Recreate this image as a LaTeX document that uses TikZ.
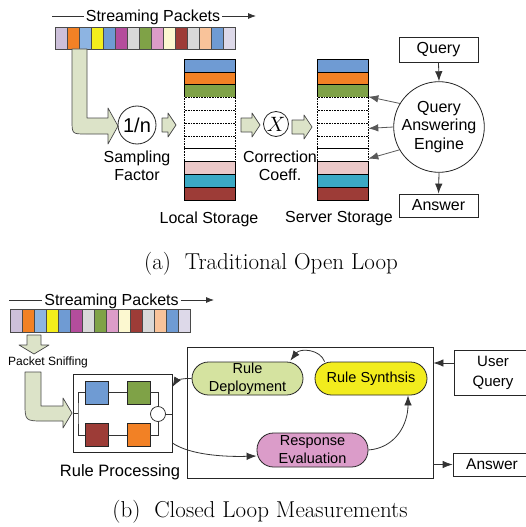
\documentclass[tikz,border=0pt]{standalone}
\usepackage{fontspec}
\setsansfont{Liberation Sans}
\usetikzlibrary{arrows.meta}

% packet colours
\definecolor{cLav}{HTML}{CDC0DA}
\definecolor{cOrange}{HTML}{F28125}
\definecolor{cLBlue}{HTML}{8DB4E2}
\definecolor{cYellow}{HTML}{F4EE1C}
\definecolor{cBlue}{HTML}{6F9BD3}
\definecolor{cMagenta}{HTML}{B44D9C}
\definecolor{cGray}{HTML}{D9D9D9}
\definecolor{cGreen}{HTML}{7FA247}
\definecolor{cPink}{HTML}{DC9CC8}
\definecolor{cCream}{HTML}{FCF8D0}
\definecolor{cRed}{HTML}{9D3C37}
\definecolor{cPeach}{HTML}{F9C39A}
\definecolor{cPale}{HTML}{DDD9E9}
% storage colours
\definecolor{cRose}{HTML}{EBC8C8}
\definecolor{cTeal}{HTML}{3BA9C4}
% stage colours
\definecolor{cDeploy}{HTML}{D5E3A0}
\definecolor{cSynth}{HTML}{F2EC1D}
\definecolor{cEval}{HTML}{DB9CC9}
\definecolor{cFat}{HTML}{DCE3C8}
\definecolor{cEdge}{HTML}{4A4A4A}

\tikzset{
  txt/.style={font=\sffamily\fontsize{16}{18.5}\selectfont, inner sep=0pt, align=center},
  smalltxt/.style={font=\sffamily\fontsize{12}{14}\selectfont, inner sep=0pt},
  pilltxt/.style={font=\sffamily\fontsize{14.5}{18}\selectfont, inner sep=0pt, align=center},
  captxt/.style={font=\fontsize{23}{26}\selectfont, inner sep=0pt},
  pkt/.style={draw=cEdge, line width=0.6pt, minimum width=12pt, minimum height=22pt, inner sep=0pt},
  sto/.style={draw=black, line width=0.6pt, minimum width=51pt, minimum height=12.8pt, inner sep=0pt},
  box/.style={draw=black!85, line width=0.8pt, inner sep=0pt, txt},
  pill/.style={draw=black!85, line width=0.8pt, rounded corners=16.5pt, inner sep=0pt, pilltxt},
  fat/.style={fill=cFat, draw=cEdge, line width=0.7pt, line join=round},
  arr/.style={draw=black!80, line width=0.8pt, -{Latex[length=10pt,width=7.5pt]}},
  thin/.style={draw=black!80, line width=0.7pt},
}

% a short fat block arrow: from x #1 to tip x #2 at height #3
\newcommand\blockarrow[3]{%
  \draw[fat] (#1,{#3-7}) -- ({#2-8},{#3-7}) -- ({#2-8},{#3-12}) -- (#2,#3)
    -- ({#2-8},{#3+12}) -- ({#2-8},{#3+7}) -- (#1,{#3+7}) -- cycle;}

\begin{document}
\begin{tikzpicture}[x=1pt,y=-1pt]
\useasboundingbox (0,0) rectangle (526,527);
\fill[white] (0,0) rectangle (526,527);

% ================= (a) open loop =================
% packet stream
\node[txt, text depth=0pt, inner xsep=2pt] (spA) at (153,16) {Streaming Packets};
\coordinate (spAl) at (52,16);
\coordinate (spAr) at (256,16);
\draw[thin] (spAl) -- (spA.west);
\draw[arr, -{Latex[length=8pt,width=6pt]}] (spA.east) -- (spAr);
\foreach \c [count=\i] in {cLav,cOrange,cLBlue,cYellow,cBlue,cMagenta,cGray,cGreen,cPink,cCream,cRed,cGray,cPeach,cBlue,cPale}
  \node[pkt, fill=\c] (pa\i) at ({49+12*\i},38) {};

% sampled branch
\draw[fat] (72,49) -- (87,49) -- (87,118) -- (108,118) -- (108,108) -- (118,126)
  -- (108,144) -- (108,134) -- (86,134) .. controls (72,134) .. (72,120) -- cycle;
\node[circle, draw=black!85, line width=0.8pt, minimum size=38pt, inner sep=0pt,
  font=\sffamily\fontsize{20}{20}\selectfont] (samp) at (137,125) {1/n};
\node[txt] (sampL) at (137,166) {Sampling\\Factor};
\blockarrow{162}{176}{125}

% local storage
\foreach \c/\s [count=\i] in {cBlue/solid,cOrange/solid,cGreen/solid,white/densely dotted,white/densely dotted,white/densely dotted,white/densely dotted,white/densely dotted,cRose/solid,cTeal/solid,cRed/solid}
  \node[sto, fill=\c, \s] (ls\i) at (209.5,{52.6+12.8*\i}) {};
\node[txt] (lsL) at (209,219) {Local Storage};

\blockarrow{241}{260}{125}
\node[circle, draw=black!85, line width=0.8pt, minimum size=25pt, inner sep=0pt,
  font=\fontsize{20}{20}\selectfont] (corr) at (276,124) {$X$};
\node[txt] (corrL) at (280,166) {Correction\\Coeff.};
\blockarrow{292}{312}{127}

% server storage
\foreach \c/\s [count=\i] in {cBlue/solid,cOrange/solid,cGreen/solid,white/densely dotted,white/densely dotted,white/densely dotted,white/densely dotted,white/densely dotted,cRose/solid,cTeal/solid,cRed/solid}
  \node[sto, fill=\c, \s] (ss\i) at (342.5,{52.6+12.8*\i}) {};
\node[txt] (ssL) at (339,219) {Server Storage};

% query answering
\node[box, minimum width=79pt, minimum height=25pt] (query) at (438.5,49.5) {Query};
\node[circle, draw=black!85, line width=0.8pt, minimum size=90pt, txt] (qae) at (439,127) {Query\\Answering\\Engine};
\node[box, minimum width=79pt, minimum height=23pt] (ansA) at (438.5,205.5) {Answer};
\draw[arr] (query.south) -- (qae.north);
\draw[arr] (qae.south) -- (ansA.north);
\draw[arr, draw=black!65] (qae.149) -- ([yshift=1pt]ss3.south east);
\draw[arr, draw=black!65] (qae.180) -- ([yshift=1pt]ss6.east);
\draw[arr, draw=black!65] (qae.210) -- ([yshift=3pt]ss8.south east);

\node[captxt] (capA) at (271,264) {(a)\ \ Traditional Open Loop};

% ================= (b) closed loop =================
\node[txt, text depth=0pt, inner xsep=2pt] (spB) at (111.5,300) {Streaming Packets};
\coordinate (spBl) at (9,300);
\coordinate (spBr) at (214,300);
\draw[thin] (spBl) -- (spB.west);
\draw[arr, -{Latex[length=8pt,width=6pt]}] (spB.east) -- (spBr);
\foreach \c [count=\i] in {cLav,cOrange,cLBlue,cYellow,cBlue,cMagenta,cGray,cGreen,cPink,cCream,cRed,cGray,cPeach,cBlue,cPale}
  \node[pkt, fill=\c, minimum height=23pt] (pb\i) at ({4+12*\i},320.5) {};

% sniffing
\draw[fat] (27,335) -- (41,335) -- (41,345) -- (49,345) -- (34,354) -- (19,345) -- (27,345) -- cycle;
\node[smalltxt] (sniff) at (48,362) {Packet Sniffing};
\draw[fat] (25,372) -- (41,372) -- (41,406) -- (63,406) -- (63,398) -- (72,413)
  -- (63,428) -- (63,421) -- (44,421) .. controls (25,421) .. (25,402) -- cycle;

% rule processing
\node[draw=black!85, line width=0.8pt, minimum width=99pt, minimum height=78pt, inner sep=0pt] (rp) at (122.5,413) {};
\node[draw=black!85, line width=0.7pt, fill=cBlue, minimum size=23pt, inner sep=0pt] (sqA) at (96.5,392.5) {};
\node[draw=black!85, line width=0.7pt, fill=cGreen, minimum size=23pt, inner sep=0pt] (sqB) at (138.5,392.5) {};
\node[draw=black!85, line width=0.7pt, fill=cRed, minimum size=23pt, inner sep=0pt] (sqC) at (96.5,435) {};
\node[draw=black!85, line width=0.7pt, fill=cOrange, minimum size=23pt, inner sep=0pt] (sqD) at (138.5,435) {};
\node[circle, draw=black!85, line width=0.7pt, fill=white, minimum size=15pt, inner sep=0pt] (jc) at (158,414) {};
\coordinate (busL) at (78,413);
\draw[thin] (rp.west) -- (busL);
\draw[thin] (sqA.west) -| (busL) |- (sqC.west);
\draw[thin] (sqA) -- (sqB);
\draw[thin] (sqC) -- (sqD);
\draw[thin] (sqB.east) -| (jc.north);
\draw[thin] (sqD.east) -| (jc.south);
\draw[thin] (jc.east) -- (jc.east -| rp.east);
\node[txt, font=\sffamily\fontsize{16.5}{18.5}\selectfont] (rpL) at (120,472) {Rule Processing};

% controller
\node[draw=black!85, line width=0.8pt, minimum width=246pt, minimum height=131pt, inner sep=0pt] (ctl) at (310,412.5) {};
\node[pill, fill=cDeploy, minimum width=111pt, minimum height=33pt] (dep) at (247.5,378.5) {Rule\\Deployment};
\node[pill, fill=cSynth, minimum width=112pt, minimum height=33pt] (syn) at (371,378.5) {Rule Synthsis};
\node[pill, fill=cEval, minimum width=111pt, minimum height=34pt] (eva) at (312.5,450) {Response\\Evaluation};

\draw[arr] ([xshift=10pt]syn.north west) .. controls (320,349) and (300,348) .. ([xshift=-13pt,yshift=1pt]dep.north east);
\draw[arr] (dep.west) .. controls (182,378) and (176,381) .. ([yshift=26pt]rp.east);
\draw[arr] ([yshift=-30pt]rp.east) .. controls (190,455) and (225,457) .. ([yshift=-6pt]eva.west);
\draw[arr] (eva.east) .. controls (395,448) and (408,425) .. ([xshift=37pt]syn.south);

% user side
\node[box, minimum width=78pt, minimum height=45pt, font=\sffamily\fontsize{15}{20}\selectfont] (uq) at (493,372.5) {User\\Query};
\node[box, minimum width=78pt, minimum height=23pt, font=\sffamily\fontsize{15.5}{18}\selectfont] (ansB) at (492,464.5) {Answer};
\coordinate (uqIn) at ([yshift=9.5pt]uq.west);
\draw[arr] (uqIn) -- (uqIn -| ctl.east);
\draw[arr] (ansB.west -| ctl.east) -- (ansB.west);

\node[captxt] (capB) at (260,512) {(b)\ \ Closed Loop Measurements};
\end{tikzpicture}
\end{document}
